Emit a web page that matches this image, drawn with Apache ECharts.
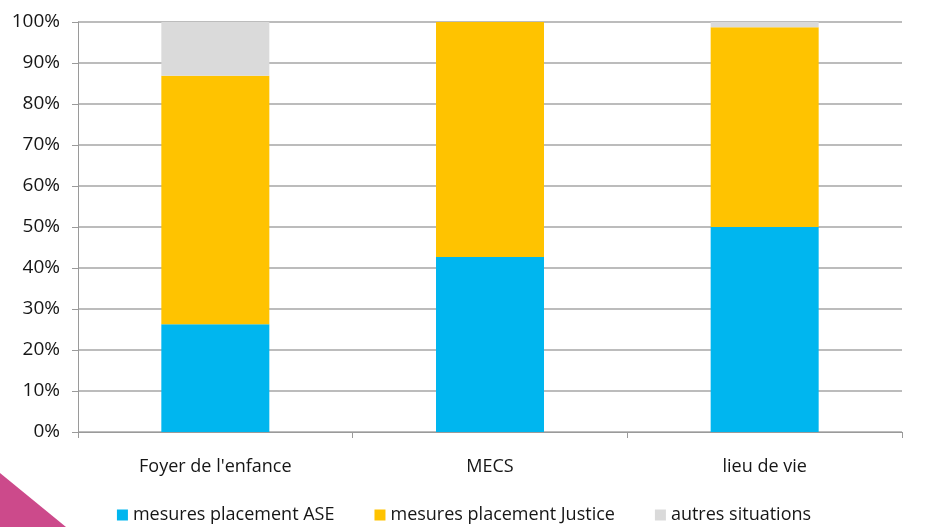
<!DOCTYPE html>
<html>
<head>
<meta charset="utf-8">
<script src="https://cdn.jsdelivr.net/npm/echarts@6/dist/echarts.min.js"></script>
<style>
  html, body { margin: 0; padding: 0; background: #fff; }
  #chart { width: 928px; height: 527px; }
</style>
</head>
<body>
<div id="chart"></div>
<script>
// Répartition des mesures par type d'établissement (en %)
const categories = ["Foyer de l'enfance", "MECS", "lieu de vie"];
const seriesNames = ["mesures placement ASE", "mesures placement Justice", "autres situations"];
const aseValues = [26.3, 42.7, 50.0];
const justiceValues = [60.6, 57.3, 48.7];
const autresValues = [13.1, 0, 1.3];
const colors = ["#00B6EF", "#FFC300", "#DADADA"];

const chart = echarts.init(document.getElementById('chart'));
const textColor = '#161616';
const fontFamily = '"Open Sans", Lato, sans-serif';

const values = [aseValues, justiceValues, autresValues];

chart.setOption({
  animation: false,
  textStyle: { fontFamily: fontFamily },
  grid: { left: 78, right: 26, top: 22, bottom: 95, containLabel: false },
  legend: {
    bottom: -2,
    left: 'center',
    itemWidth: 11,
    itemHeight: 11,
    itemGap: 40,
    icon: 'rect',
    textStyle: { fontSize: 18, color: textColor, fontFamily: fontFamily },
    data: seriesNames
  },
  xAxis: {
    type: 'category',
    data: categories,
    axisLine: { lineStyle: { color: '#9a9a9a', width: 1 } },
    axisTick: { show: true, length: 6, lineStyle: { color: '#9a9a9a' } },
    axisLabel: { fontSize: 18, color: textColor, margin: 26 }
  },
  yAxis: {
    type: 'value',
    min: 0,
    max: 100,
    interval: 10,
    axisLine: { show: true, lineStyle: { color: '#9a9a9a', width: 1 } },
    axisTick: { show: true, inside: false, length: 6, lineStyle: { color: '#9a9a9a' } },
    splitLine: { lineStyle: { color: '#a6a6a6', width: 1.5 } },
    axisLabel: { fontSize: 19, color: textColor, margin: 18, formatter: '{value}%' }
  },
  graphic: [{
    type: 'polygon',
    shape: { points: [[0, 473], [0, 527], [66, 527]] },
    style: { fill: '#CC4A8B' },
    z: 100
  }],
  series: seriesNames.map((name, i) => ({
    name: name,
    type: 'bar',
    stack: 'total',
    barWidth: 108,
    itemStyle: { color: colors[i] },
    data: values[i]
  }))
});
</script>
</body>
</html>
